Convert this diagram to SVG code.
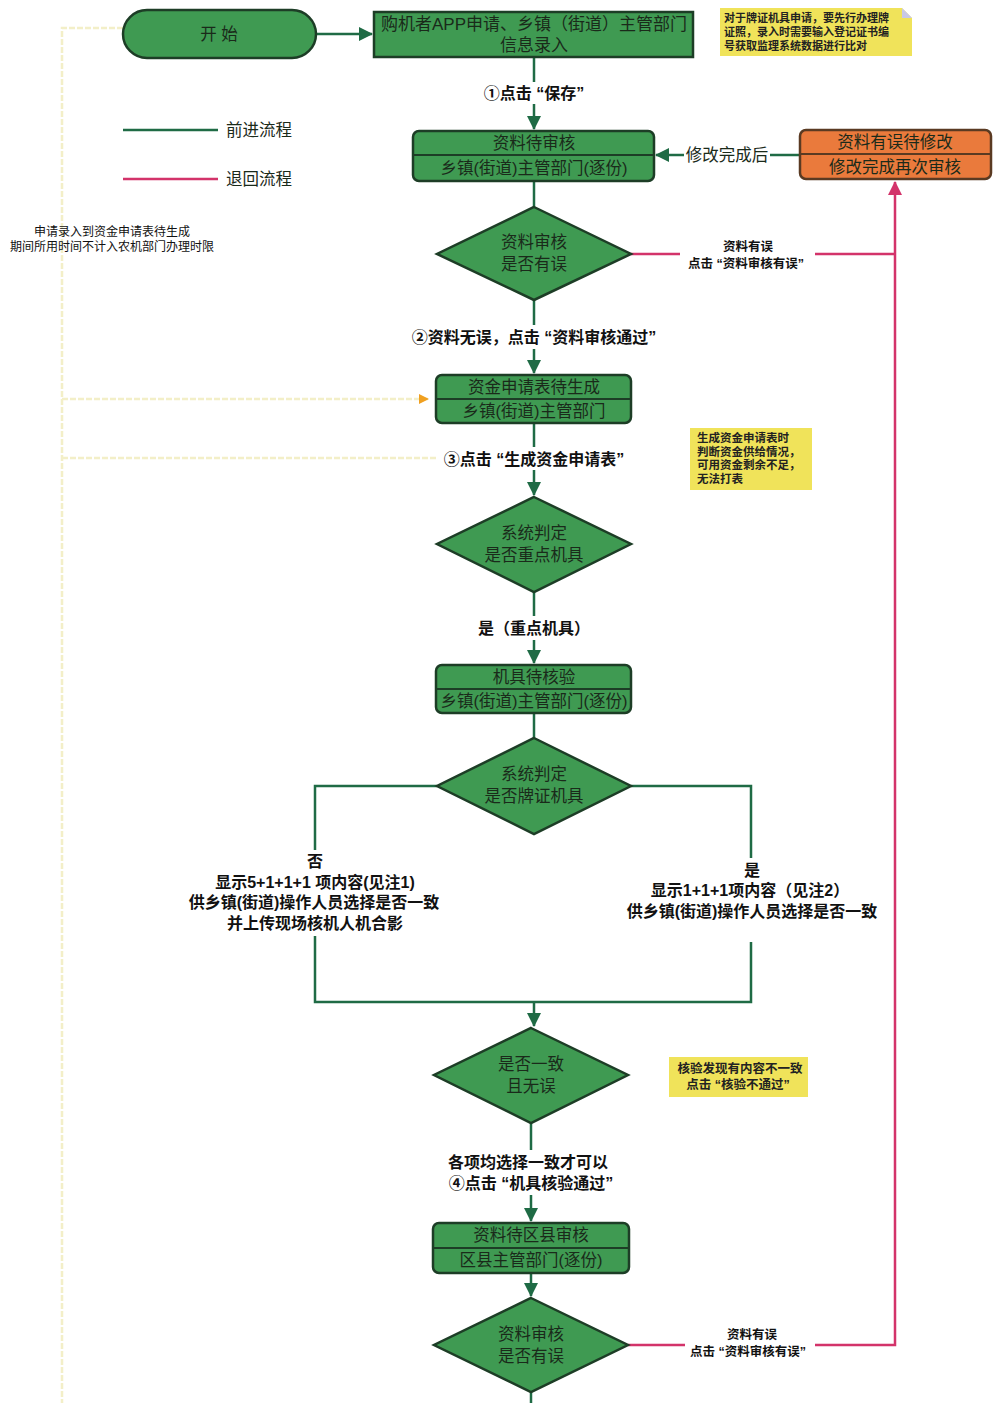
<svg xmlns="http://www.w3.org/2000/svg" width="993" height="1403" viewBox="0 0 993 1403">
<defs>
<style>
.node{fill:#3f9a52;stroke:#1d3d26;stroke-width:2.5}
.orange{fill:#ea7a3c;stroke:#5a3a22;stroke-width:2.5}
.div{stroke:#1d3d26;stroke-width:2}
.t{font-family:"Liberation Sans","Noto Sans CJK SC",sans-serif;font-size:16.5px;fill:#1a2a1a;text-anchor:middle}
.lbl{font-family:"Liberation Sans","Noto Sans CJK SC",sans-serif;font-size:16px;font-weight:bold;fill:#111;text-anchor:middle}
.sm{font-family:"Liberation Sans","Noto Sans CJK SC",sans-serif;font-size:12.5px;font-weight:bold;fill:#111;text-anchor:middle}
.note{font-family:"Liberation Sans","Noto Sans CJK SC",sans-serif;font-size:11px;font-weight:bold;fill:#222}
.g{stroke:#1f6b45;stroke-width:2.5;fill:none}
.r{stroke:#d3336a;stroke-width:2.5;fill:none}
.y{stroke:#f3efc8;stroke-width:2.5;fill:none;stroke-dasharray:6 2}
.yel{fill:#f0e35a}
</style>
<marker id="agb" markerWidth="14" markerHeight="14" refX="13" refY="7" orient="auto" markerUnits="userSpaceOnUse"><path d="M0,0 L14,7 L0,14 z" fill="#1f6b45"/></marker>
<marker id="ar" markerWidth="14" markerHeight="14" refX="13" refY="7" orient="auto" markerUnits="userSpaceOnUse"><path d="M0,0 L14,7 L0,14 z" fill="#d3336a"/></marker>
<marker id="ao" markerWidth="10" markerHeight="10" refX="9" refY="5" orient="auto" markerUnits="userSpaceOnUse"><path d="M0,0 L10,5 L0,10 z" fill="#f0a020"/></marker>
</defs>
<rect width="993" height="1403" fill="#ffffff"/>

<g id="connectors">
<path class="y" d="M123,28 H62 V1403"/>
<path class="y" d="M62,399 H428" marker-end="url(#ao)"/>
<path class="y" d="M62,458 H438"/>
<path class="g" d="M316,34 H372" marker-end="url(#agb)"/>
<path class="g" d="M534,57 V82"/>
<path class="g" d="M534,104 V129" marker-end="url(#agb)"/>
<path class="g" d="M800,155 H770"/>
<path class="g" d="M684,155 H656" marker-end="url(#agb)"/>
<path class="g" d="M534,181 V207"/>
<path class="g" d="M534,300 V325"/>
<path class="g" d="M534,349 V373" marker-end="url(#agb)"/>
<path class="g" d="M534,423 V447"/>
<path class="g" d="M534,470 V495" marker-end="url(#agb)"/>
<path class="g" d="M534,592 V616"/>
<path class="g" d="M534,640 V663" marker-end="url(#agb)"/>
<path class="g" d="M534,713 V738"/>
<path class="g" d="M437,786 H315 V850"/>
<path class="g" d="M631,786 H751 V858"/>
<path class="g" d="M315,936 V1002 H751 V942"/>
<path class="g" d="M534,1002 V1026" marker-end="url(#agb)"/>
<path class="g" d="M531,1123 V1150"/>
<path class="g" d="M531,1195 V1221" marker-end="url(#agb)"/>
<path class="g" d="M531,1273 V1296" marker-end="url(#agb)"/>
<path class="g" d="M531,1392 V1403"/>
<path class="r" d="M631,254 H680"/>
<path class="r" d="M815,254 H895"/>
<path class="r" d="M628,1345 H685"/>
<path class="r" d="M815,1345 H895 V182" marker-end="url(#ar)"/>
<path class="g" d="M123,130 H218"/>
<path class="r" d="M123,179 H218"/>
</g>

<g id="legend">
<text class="t" x="226" y="136" style="text-anchor:start">前进流程</text>
<text class="t" x="226" y="185" style="text-anchor:start">退回流程</text>
</g>

<g id="start">
<rect class="node" x="123" y="10" width="193" height="48" rx="24"/>
<text class="t" x="219" y="40">开 始</text>
</g>

<g id="box1">
<rect class="node" x="374" y="12" width="319" height="45"/>
<text class="t" x="534" y="30" style="font-size:17px">购机者APP申请、乡镇（街道）主管部门</text>
<text class="t" x="534" y="51" style="font-size:17px">信息录入</text>
</g>

<g id="note1">
<path class="yel" d="M720,8 H902 L912,18 V56 H720 Z"/>
<path d="M902,8 L912,18 L902,18 Z" fill="#c8c8e8"/>
<text class="note" x="724" y="22">对于牌证机具申请，要先行办理牌</text>
<text class="note" x="724" y="36">证照，录入时需要输入登记证书编</text>
<text class="note" x="724" y="50">号获取监理系统数据进行比对</text>
</g>

<g id="lbl1"><text class="lbl" x="534" y="99">①点击 “保存”</text></g>

<g id="box2">
<rect class="node" x="413" y="131" width="241" height="50" rx="6"/>
<line class="div" x1="413" y1="155" x2="654" y2="155"/>
<text class="t" x="534" y="149">资料待审核</text>
<text class="t" x="534" y="174">乡镇(街道)主管部门(逐份)</text>
</g>

<g id="lbl_mod"><text class="t" x="727" y="161">修改完成后</text></g>

<g id="orange">
<rect class="orange" x="800" y="130" width="191" height="49" rx="6"/>
<line x1="800" y1="154" x2="991" y2="154" stroke="#5a3a22" stroke-width="2"/>
<text class="t" x="895" y="148">资料有误待修改</text>
<text class="t" x="895" y="173">修改完成再次审核</text>
</g>

<g id="leftnote">
<text class="sm" x="112" y="236" style="font-weight:normal;font-size:12px">申请录入到资金申请表待生成</text>
<text class="sm" x="112" y="251" style="font-weight:normal;font-size:12px">期间所用时间不计入农机部门办理时限</text>
</g>

<g id="d1">
<polygon class="node" points="534,207 631,254 534,300 437,254"/>
<text class="t" x="534" y="248">资料审核</text>
<text class="t" x="534" y="270">是否有误</text>
</g>

<g id="lbl_err1">
<text class="sm" x="748" y="251">资料有误</text>
<text class="sm" x="746" y="268">点击 “资料审核有误”</text>
</g>

<g id="lbl2"><text class="lbl" x="534" y="343">②资料无误，点击 “资料审核通过”</text></g>

<g id="box3">
<rect class="node" x="436" y="375" width="195" height="48" rx="6"/>
<line class="div" x1="436" y1="399" x2="631" y2="399"/>
<text class="t" x="534" y="393">资金申请表待生成</text>
<text class="t" x="534" y="417">乡镇(街道)主管部门</text>
</g>

<g id="lbl3"><text class="lbl" x="534" y="465">③点击 “生成资金申请表”</text></g>

<g id="note3">
<rect class="yel" x="690" y="428" width="122" height="62"/>
<text class="note" x="697" y="442" style="font-size:11.5px">生成资金申请表时</text>
<text class="note" x="697" y="455.5" style="font-size:11.5px">判断资金供给情况，</text>
<text class="note" x="697" y="469" style="font-size:11.5px">可用资金剩余不足，</text>
<text class="note" x="697" y="482.5" style="font-size:11.5px">无法打表</text>
</g>

<g id="d2">
<polygon class="node" points="534,497 631,544 534,592 437,544"/>
<text class="t" x="534" y="539">系统判定</text>
<text class="t" x="534" y="561">是否重点机具</text>
</g>

<g id="lbl4"><text class="lbl" x="534" y="634">是（重点机具）</text></g>

<g id="box4">
<rect class="node" x="436" y="665" width="195" height="48" rx="6"/>
<line class="div" x1="436" y1="689" x2="631" y2="689"/>
<text class="t" x="534" y="683">机具待核验</text>
<text class="t" x="534" y="707">乡镇(街道)主管部门(逐份)</text>
</g>

<g id="d3">
<polygon class="node" points="534,738 631,786 534,834 437,786"/>
<text class="t" x="534" y="780">系统判定</text>
<text class="t" x="534" y="802">是否牌证机具</text>
</g>

<g id="leftbranch">
<text class="lbl" x="315" y="867">否</text>
<text class="lbl" x="315" y="888">显示5+1+1+1 项内容(见注1)</text>
<text class="lbl" x="314" y="908">供乡镇(街道)操作人员选择是否一致</text>
<text class="lbl" x="315" y="929">并上传现场核机人机合影</text>
</g>

<g id="rightbranch">
<text class="lbl" x="752" y="876">是</text>
<text class="lbl" x="750" y="896">显示1+1+1项内容（见注2）</text>
<text class="lbl" x="752" y="917">供乡镇(街道)操作人员选择是否一致</text>
</g>

<g id="d4">
<polygon class="node" points="531,1028 628,1075 531,1123 434,1075"/>
<text class="t" x="531" y="1070">是否一致</text>
<text class="t" x="531" y="1092">且无误</text>
</g>

<g id="note4">
<rect class="yel" x="669" y="1057" width="139" height="40"/>
<text class="note" x="740" y="1073" style="text-anchor:middle;font-size:12.5px">核验发现有内容不一致</text>
<text class="note" x="738" y="1089" style="text-anchor:middle;font-size:12.5px">点击 “核验不通过”</text>
</g>

<g id="lbl5">
<text class="lbl" x="528" y="1168">各项均选择一致才可以</text>
<text class="lbl" x="531" y="1189">④点击 “机具核验通过”</text>
</g>

<g id="box5">
<rect class="node" x="433" y="1223" width="196" height="50" rx="6"/>
<line class="div" x1="433" y1="1248" x2="629" y2="1248"/>
<text class="t" x="531" y="1241">资料待区县审核</text>
<text class="t" x="531" y="1266">区县主管部门(逐份)</text>
</g>

<g id="d5">
<polygon class="node" points="531,1298 628,1345 531,1392 434,1345"/>
<text class="t" x="531" y="1340">资料审核</text>
<text class="t" x="531" y="1362">是否有误</text>
</g>

<g id="lbl_err2">
<text class="sm" x="752" y="1339">资料有误</text>
<text class="sm" x="748" y="1356">点击 “资料审核有误”</text>
</g>
</svg>
